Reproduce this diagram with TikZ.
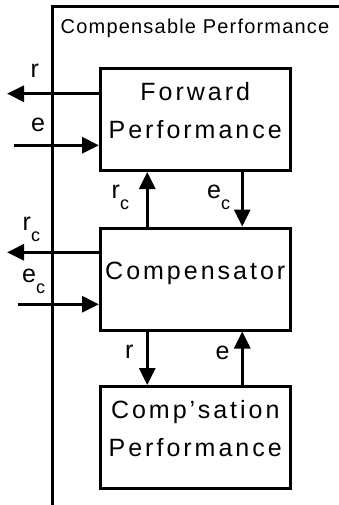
\documentclass[tikz,border=0pt]{standalone}
\usepackage{fontspec}
\setmainfont{Liberation Sans}[LetterSpace=12]
\usetikzlibrary{arrows.meta}
\newcommand{\sig}[2]{#1\raisebox{-11pt}{\fontsize{18}{18}\selectfont #2}}

\begin{document}
\begin{tikzpicture}[x=1pt,y=-1pt]
  \tikzset{perf box/.style={draw,line width=3pt,minimum width=189.5pt,minimum height=102pt,align=center,font=\fontsize{25}{38}\selectfont,text height=#1,text depth=20pt},
    flow/.style={line width=3pt,-{Triangle[length=17pt,width=16pt]}},
    sig label/.style={anchor=base west,inner sep=0pt,font=\fontsize{25}{30}\selectfont}}
  \useasboundingbox (0,0) rectangle (339,505);

  \draw [line width=3pt] (52,505) -- (52,7) -- (339,7);
  \node [anchor=base west,inner sep=0pt,font=\fontsize{20}{24}\selectfont\addfontfeature{LetterSpace=6}] (T) at (60.5,33.5) {Compensable Performance};

  \node [perf box=58pt] (F) at (195.25,119.5) {Forward\\Performance};
  \node [perf box=20pt] (C) at (195.25,279) {Compensator};
  \node [perf box=58pt] (P) at (195.25,437.5) {Comp’sation\\Performance};

  \coordinate (r out) at (7,93.7);
  \coordinate (e in) at (14,145.3);
  \coordinate (rc out) at (7,252.3);
  \coordinate (ec in) at (18,304.3);

  \draw [flow] (F.west |- r out) -- (r out);
  \draw [flow] (e in) -- (F.west |- e in);
  \draw [flow] (C.west |- rc out) -- (rc out);
  \draw [flow] (ec in) -- (C.west |- ec in);

  \draw [flow] ([xshift=-48pt]C.north) -- ([xshift=-48pt]F.south);
  \draw [flow] ([xshift=47pt]F.south) -- ([xshift=47pt]C.north);
  \draw [flow] ([xshift=-48pt]C.south) -- ([xshift=-48pt]P.north);
  \draw [flow] ([xshift=47pt]P.north) -- ([xshift=47pt]C.south);

  \node [sig label] (r1) at (30.5,78) {r};
  \node [sig label] (e1) at (31,131.5) {e};
  \node [sig label] (rc1) at (22.5,230) {\sig{r}{c}};
  \node [sig label] (ec1) at (22,282) {\sig{e}{c}};
  \node [sig label] (rc2) at (111.5,198) {\sig{r}{c}};
  \node [sig label] (ec2) at (207,198) {\sig{e}{c}};
  \node [sig label] (r2) at (125,358) {r};
  \node [sig label] (e2) at (215.5,359) {e};
\end{tikzpicture}
\end{document}
